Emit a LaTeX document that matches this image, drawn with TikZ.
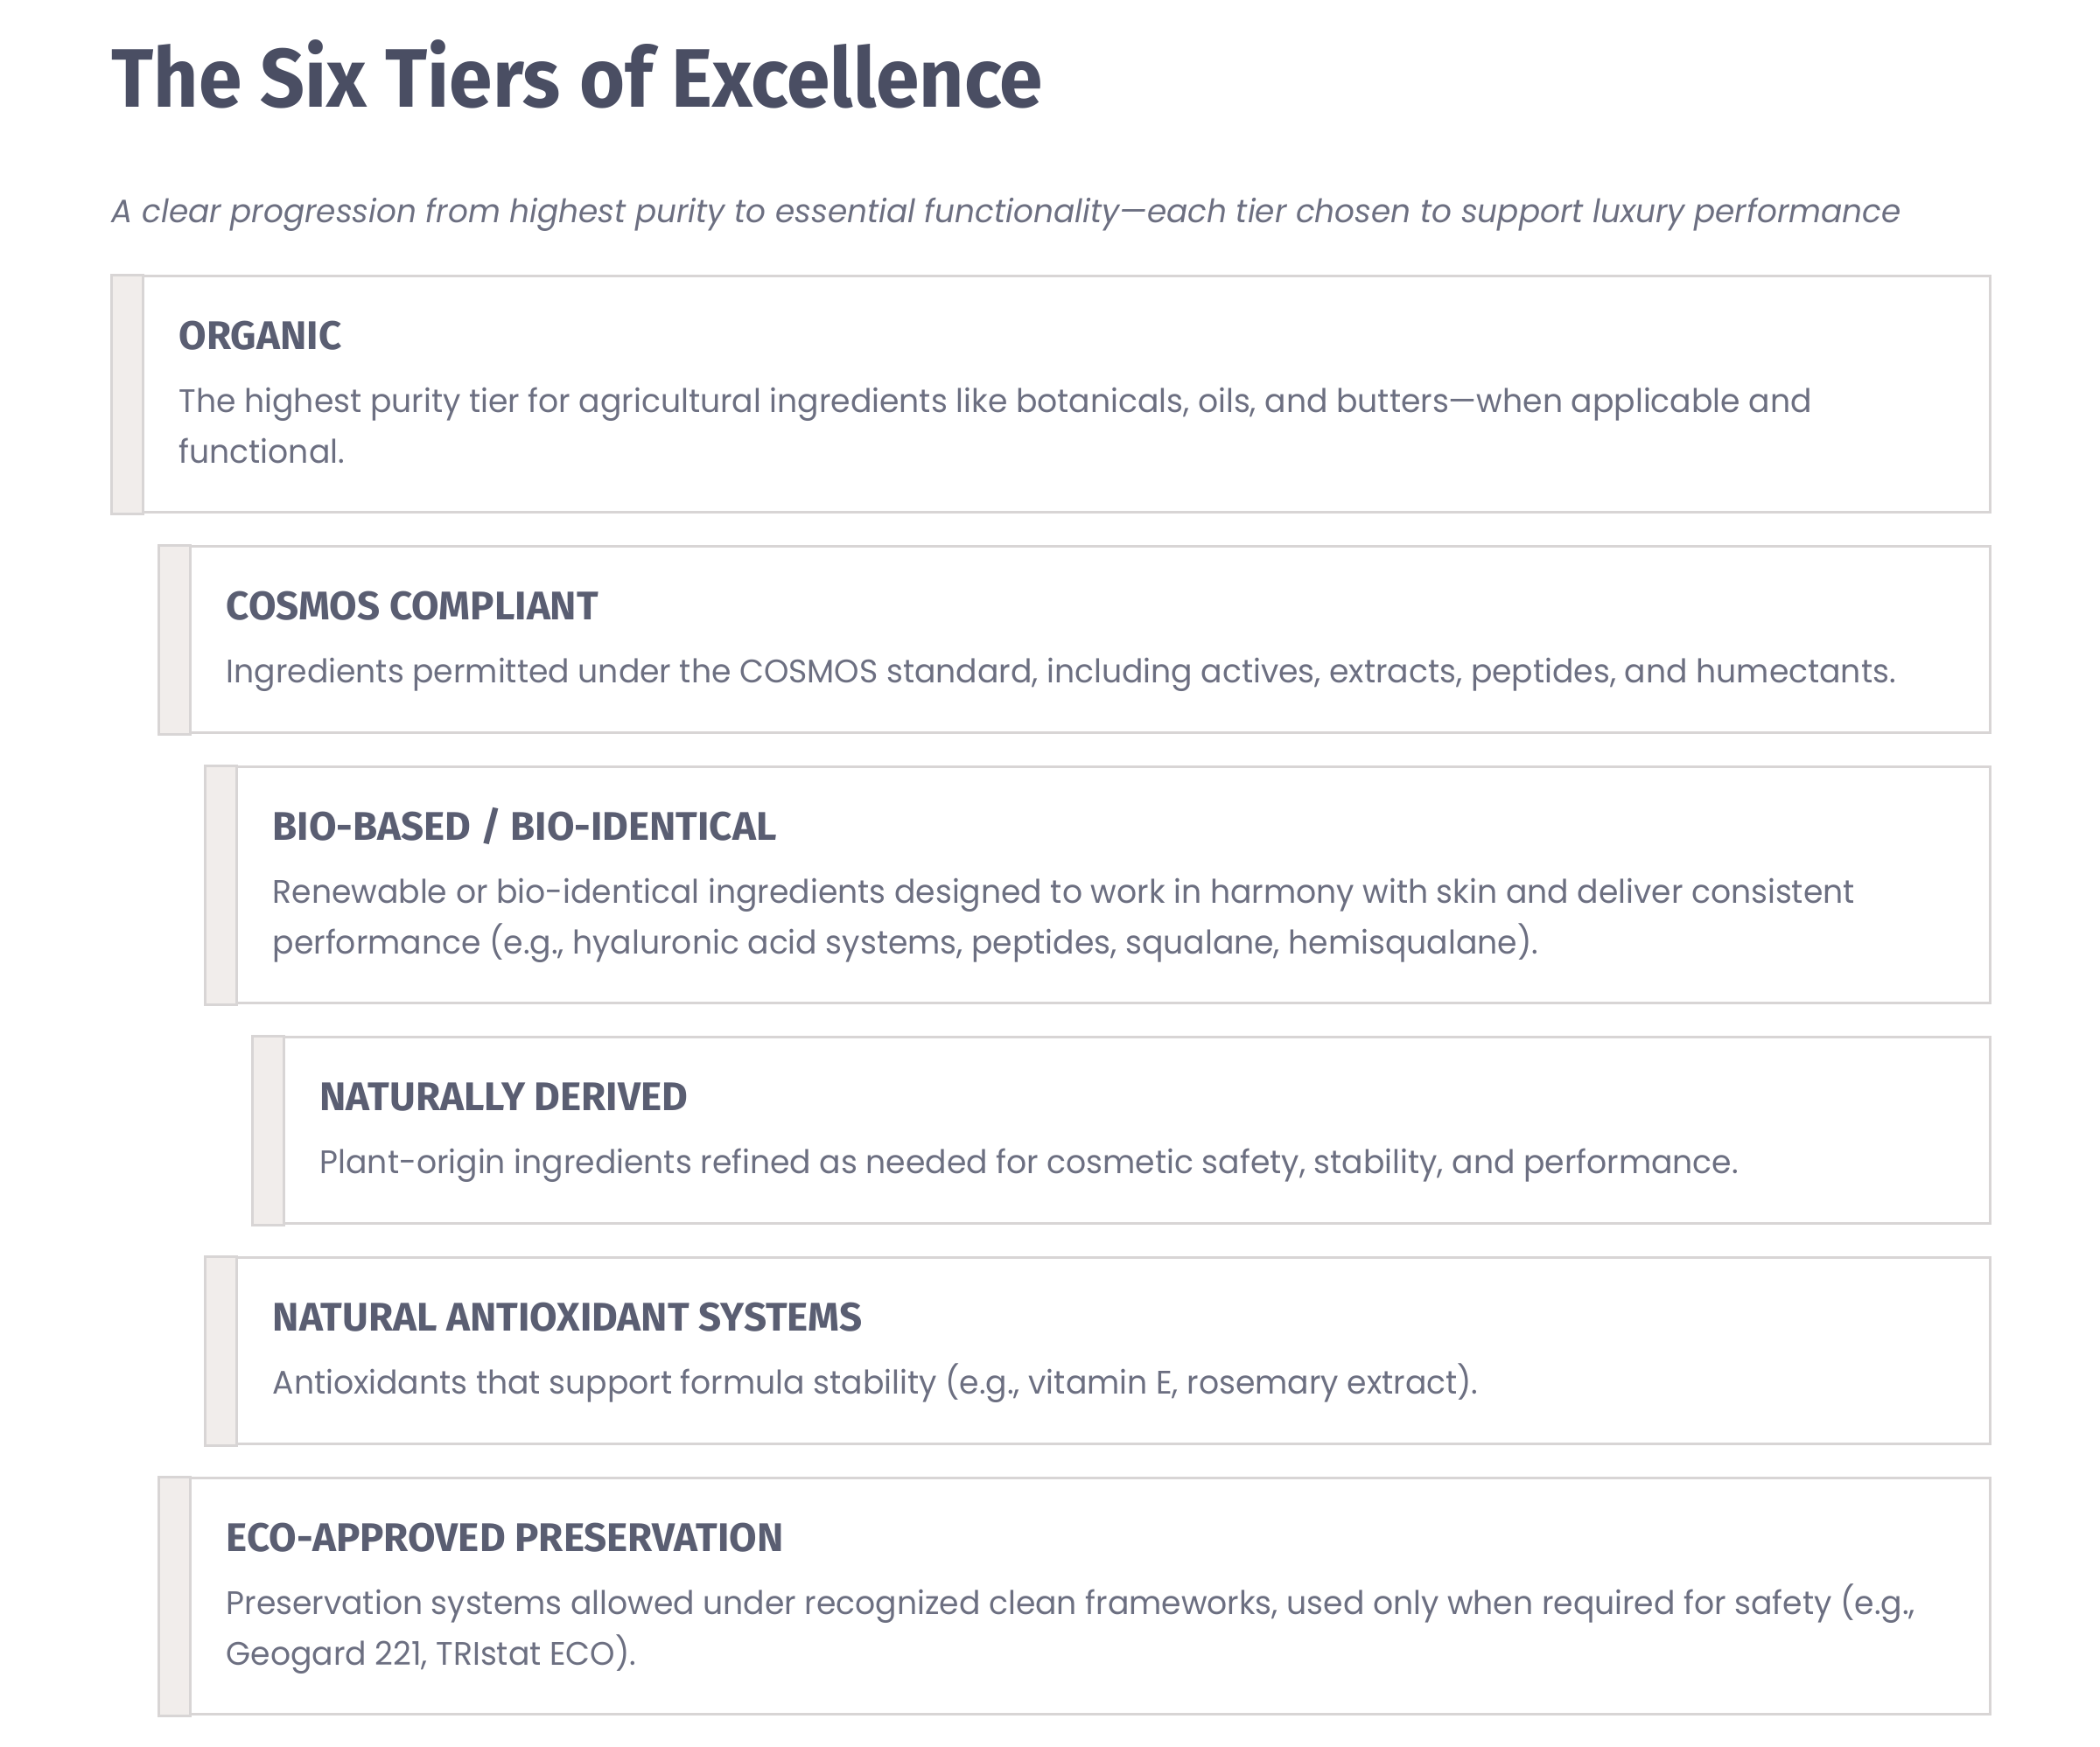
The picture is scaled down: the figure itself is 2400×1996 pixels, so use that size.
\documentclass[tikz,border=0pt]{standalone}
\usepackage{fontspec}
\usepackage{tikz}
\usetikzlibrary{positioning}

\newfontfamily\titlefont[FakeStretch=0.94]{Fira Sans}
\newfontfamily\headfont{Fira Sans}
\newfontfamily\bodyfont[FakeStretch=0.97]{Poppins}

\definecolor{titleslate}{HTML}{4A4E63}
\definecolor{headslate}{HTML}{5A5E72}
\definecolor{bodygrey}{HTML}{6C6F81}
\definecolor{tierline}{HTML}{D8D5D5}
\definecolor{tierstripe}{HTML}{F1EDEB}

\begin{document}
\begin{tikzpicture}[x=0.1mm, y=-0.1mm,
    tier/.style={draw=tierline, line width=0.3mm, fill=white, anchor=north west, inner sep=0pt},
    stripe/.style={draw=tierline, line width=0.3mm, fill=tierstripe},
    tierhead/.style={anchor=base west, inner sep=0pt, text=headslate, font=\headfont\bfseries\fontsize{13}{16}\selectfont},
    tierbody/.style={anchor=base west, inner sep=0pt, align=left, text=bodygrey, font=\bodyfont\fontsize{10.6}{16.5}\selectfont}]
    \useasboundingbox (0,0) rectangle (2400,1996);

    % heading
    \node[anchor=base west, inner sep=0pt, text=titleslate, font=\titlefont\bfseries\fontsize{27}{32}\selectfont] (title) at (127,122) {The Six Tiers of Excellence};
    \node[anchor=base west, inner sep=0pt, text=bodygrey, font=\bodyfont\itshape\fontsize{10.52}{14}\selectfont] (subtitle) at (127,254) {A clear progression from highest purity to essential functionality—each tier chosen to support luxury performance};

    % tier 1 (two lines: base is the last line)
    \node[tier, minimum width=214.6mm, minimum height=27mm] (organic) at (127,314) {};
    \draw[stripe] (organic.north west) rectangle ([xshift=3.6mm]organic.south west);
    \node[tierhead] (organic-head) at ([shift={(7.7mm,-8.5mm)}]organic.north west) {ORGANIC};
    \node[tierbody] (organic-text) at ([yshift=-13mm]organic-head.base west) {The highest purity tier for agricultural ingredients like botanicals, oils, and butters—when applicable and\\functional.};

    % tier 2
    \node[tier, minimum width=209.2mm, minimum height=21.3mm] (cosmos) at (181,623) {};
    \draw[stripe] (cosmos.north west) rectangle ([xshift=3.6mm]cosmos.south west);
    \node[tierhead] (cosmos-head) at ([shift={(7.7mm,-8.5mm)}]cosmos.north west) {COSMOS COMPLIANT};
    \node[tierbody] (cosmos-text) at ([yshift=-7.2mm]cosmos-head.base west) {Ingredients permitted under the COSMOS standard, including actives, extracts, peptides, and humectants.};

    % tier 3
    \node[tier, minimum width=203.9mm, minimum height=27mm] (biobased) at (234,875) {};
    \draw[stripe] (biobased.north west) rectangle ([xshift=3.6mm]biobased.south west);
    \node[tierhead] (biobased-head) at ([shift={(7.7mm,-8.5mm)}]biobased.north west) {BIO-BASED / BIO-IDENTICAL};
    \node[tierbody] (biobased-text) at ([yshift=-13mm]biobased-head.base west) {Renewable or bio-identical ingredients designed to work in harmony with skin and deliver consistent\\performance (e.g., hyaluronic acid systems, peptides, squalane, hemisqualane).};

    % tier 4
    \node[tier, minimum width=198.5mm, minimum height=21.3mm] (natderived) at (288,1184) {};
    \draw[stripe] (natderived.north west) rectangle ([xshift=3.6mm]natderived.south west);
    \node[tierhead] (natderived-head) at ([shift={(7.7mm,-8.5mm)}]natderived.north west) {NATURALLY DERIVED};
    \node[tierbody] (natderived-text) at ([yshift=-7.2mm]natderived-head.base west) {Plant-origin ingredients refined as needed for cosmetic safety, stability, and performance.};

    % tier 5
    \node[tier, minimum width=203.9mm, minimum height=21.3mm] (antiox) at (234,1436) {};
    \draw[stripe] (antiox.north west) rectangle ([xshift=3.6mm]antiox.south west);
    \node[tierhead] (antiox-head) at ([shift={(7.7mm,-8.5mm)}]antiox.north west) {NATURAL ANTIOXIDANT SYSTEMS};
    \node[tierbody] (antiox-text) at ([yshift=-7.2mm]antiox-head.base west) {Antioxidants that support formula stability (e.g., vitamin E, rosemary extract).};

    % tier 6
    \node[tier, minimum width=209.2mm, minimum height=27mm] (ecopres) at (181,1688) {};
    \draw[stripe] (ecopres.north west) rectangle ([xshift=3.6mm]ecopres.south west);
    \node[tierhead] (ecopres-head) at ([shift={(7.7mm,-8.5mm)}]ecopres.north west) {ECO-APPROVED PRESERVATION};
    \node[tierbody] (ecopres-text) at ([yshift=-13mm]ecopres-head.base west) {Preservation systems allowed under recognized clean frameworks, used only when required for safety (e.g.,\\Geogard 221, TRIstat ECO).};
\end{tikzpicture}
\end{document}
